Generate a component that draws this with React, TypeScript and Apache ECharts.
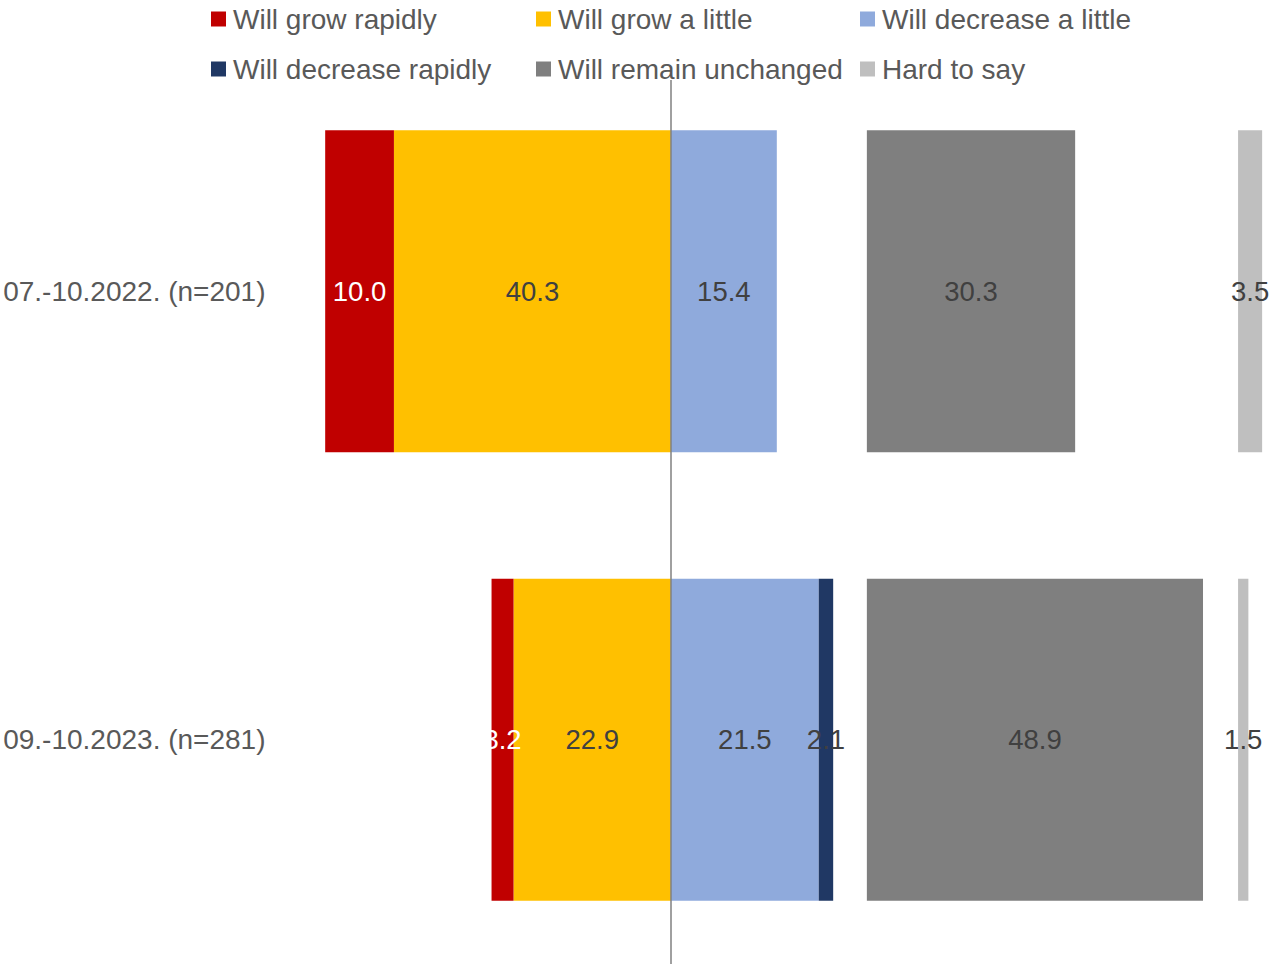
import React, { useEffect, useRef } from "react";
import * as echarts from "echarts";

// Survey waves, top to bottom
const categories = ["07.-10.2022. (n=201)", "09.-10.2023. (n=281)"];

// Shares of answers, %
const growRapidly = [10.0, 3.2];
const growLittle = [40.3, 22.9];
const decreaseLittle = [15.4, 21.5];
const decreaseRapidly = [0, 2.1];
const unchanged = [30.3, 48.9];
const hardToSay = [3.5, 1.5];

// Where the neutral blocks begin on the value axis
const UNCHANGED_START = 28.5;
const HARD_START = 82.5;

const COLORS = {
  growRapidly: "#C00000",
  growLittle: "#FFC000",
  decreaseLittle: "#8FAADC",
  decreaseRapidly: "#203864",
  unchanged: "#7F7F7F",
  hardToSay: "#BFBFBF",
};

const FONT = "'Liberation Sans', Arial, sans-serif";

export default function App() {
  const ref = useRef<HTMLDivElement>(null);

  useEffect(() => {
    if (!ref.current) return;
    const chart = echarts.init(ref.current, null, { renderer: "svg" });

    const gapToUnchanged = decreaseLittle.map(
      (v, i) => UNCHANGED_START - v - decreaseRapidly[i]
    );
    const gapToHard = unchanged.map((v) => HARD_START - UNCHANGED_START - v);

    const labelOf = (color: string) => ({
      show: true,
      position: "inside" as const,
      color,
      fontFamily: FONT,
      fontSize: 27.5,
      formatter: (p: any) => {
        const v = Math.abs(Number(p.value));
        return v === 0 ? "" : v.toFixed(1);
      },
    });

    const bar = (name: string, data: number[], color: string, labelColor: string) => ({
      name,
      type: "bar" as const,
      stack: "total",
      barWidth: 322,
      data,
      itemStyle: { color },
      label: labelOf(labelColor),
      emphasis: { disabled: true },
    });

    const spacer = (name: string, data: number[]) => ({
      name,
      type: "bar" as const,
      stack: "total",
      barWidth: 322,
      data,
      itemStyle: { color: "transparent" },
      label: { show: false },
      silent: true,
      emphasis: { disabled: true },
    });

    const legendBase = {
      orient: "vertical" as const,
      top: 4,
      padding: 0,
      itemWidth: 15,
      itemHeight: 15,
      itemGap: 20,
      icon: "rect",
      selectedMode: false,
      textStyle: {
        color: "#595959",
        fontFamily: FONT,
        fontSize: 28,
        lineHeight: 30,
        padding: [0, 0, 0, 2],
      },
    };

    chart.setOption({
      animation: false,
      backgroundColor: "#ffffff",
      textStyle: { fontFamily: FONT },
      color: [
        COLORS.growRapidly,
        COLORS.growLittle,
        COLORS.decreaseLittle,
        COLORS.decreaseRapidly,
        COLORS.unchanged,
        COLORS.hardToSay,
      ],
      legend: [
        { ...legendBase, left: 211, data: ["Will grow rapidly", "Will decrease rapidly"] },
        { ...legendBase, left: 536, data: ["Will grow a little", "Will remain unchanged"] },
        { ...legendBase, left: 860, data: ["Will decrease a little", "Hard to say"] },
      ],
      grid: [
        { left: 313.5, right: 2, top: 67, bottom: -5 },
        { left: 313.5, right: 2, top: 80, bottom: 0 },
      ],
      xAxis: [
        { type: "value", gridIndex: 0, min: -52, max: 87, show: false },
        { type: "value", gridIndex: 1, min: -52, max: 87, show: false },
      ],
      yAxis: [
        {
          type: "category",
          gridIndex: 0,
          data: categories,
          inverse: true,
          axisLine: { show: false },
          axisTick: { show: false },
          splitLine: { show: false },
          axisLabel: {
            color: "#595959",
            fontFamily: FONT,
            fontSize: 28,
            margin: 48,
          },
        },
        { type: "value", gridIndex: 1, min: 0, max: 1, show: false },
      ],
      series: [
        bar("Will grow a little", growLittle.map((v) => -v), COLORS.growLittle, "#404040"),
        bar("Will grow rapidly", growRapidly.map((v) => -v), COLORS.growRapidly, "#ffffff"),
        bar("Will decrease a little", decreaseLittle, COLORS.decreaseLittle, "#404040"),
        bar("Will decrease rapidly", decreaseRapidly, COLORS.decreaseRapidly, "#404040"),
        spacer("gap-unchanged", gapToUnchanged),
        bar("Will remain unchanged", unchanged, COLORS.unchanged, "#404040"),
        spacer("gap-hard", gapToHard),
        bar("Hard to say", hardToSay, COLORS.hardToSay, "#404040"),
        {
          name: "zero-line",
          type: "line",
          xAxisIndex: 1,
          yAxisIndex: 1,
          data: [[0, 0]],
          showSymbol: false,
          silent: true,
          lineStyle: { opacity: 0 },
          markLine: {
            silent: true,
            symbol: "none",
            label: { show: false },
            lineStyle: { color: "#808080", width: 1.5, type: "solid" },
            data: [{ xAxis: 0 }],
          },
        },
      ],
    });

    return () => chart.dispose();
  }, []);

  return (
    <div
      ref={ref}
      style={{ position: "fixed", left: 0, top: 0, width: 1271, height: 964 }}
    />
  );
}
